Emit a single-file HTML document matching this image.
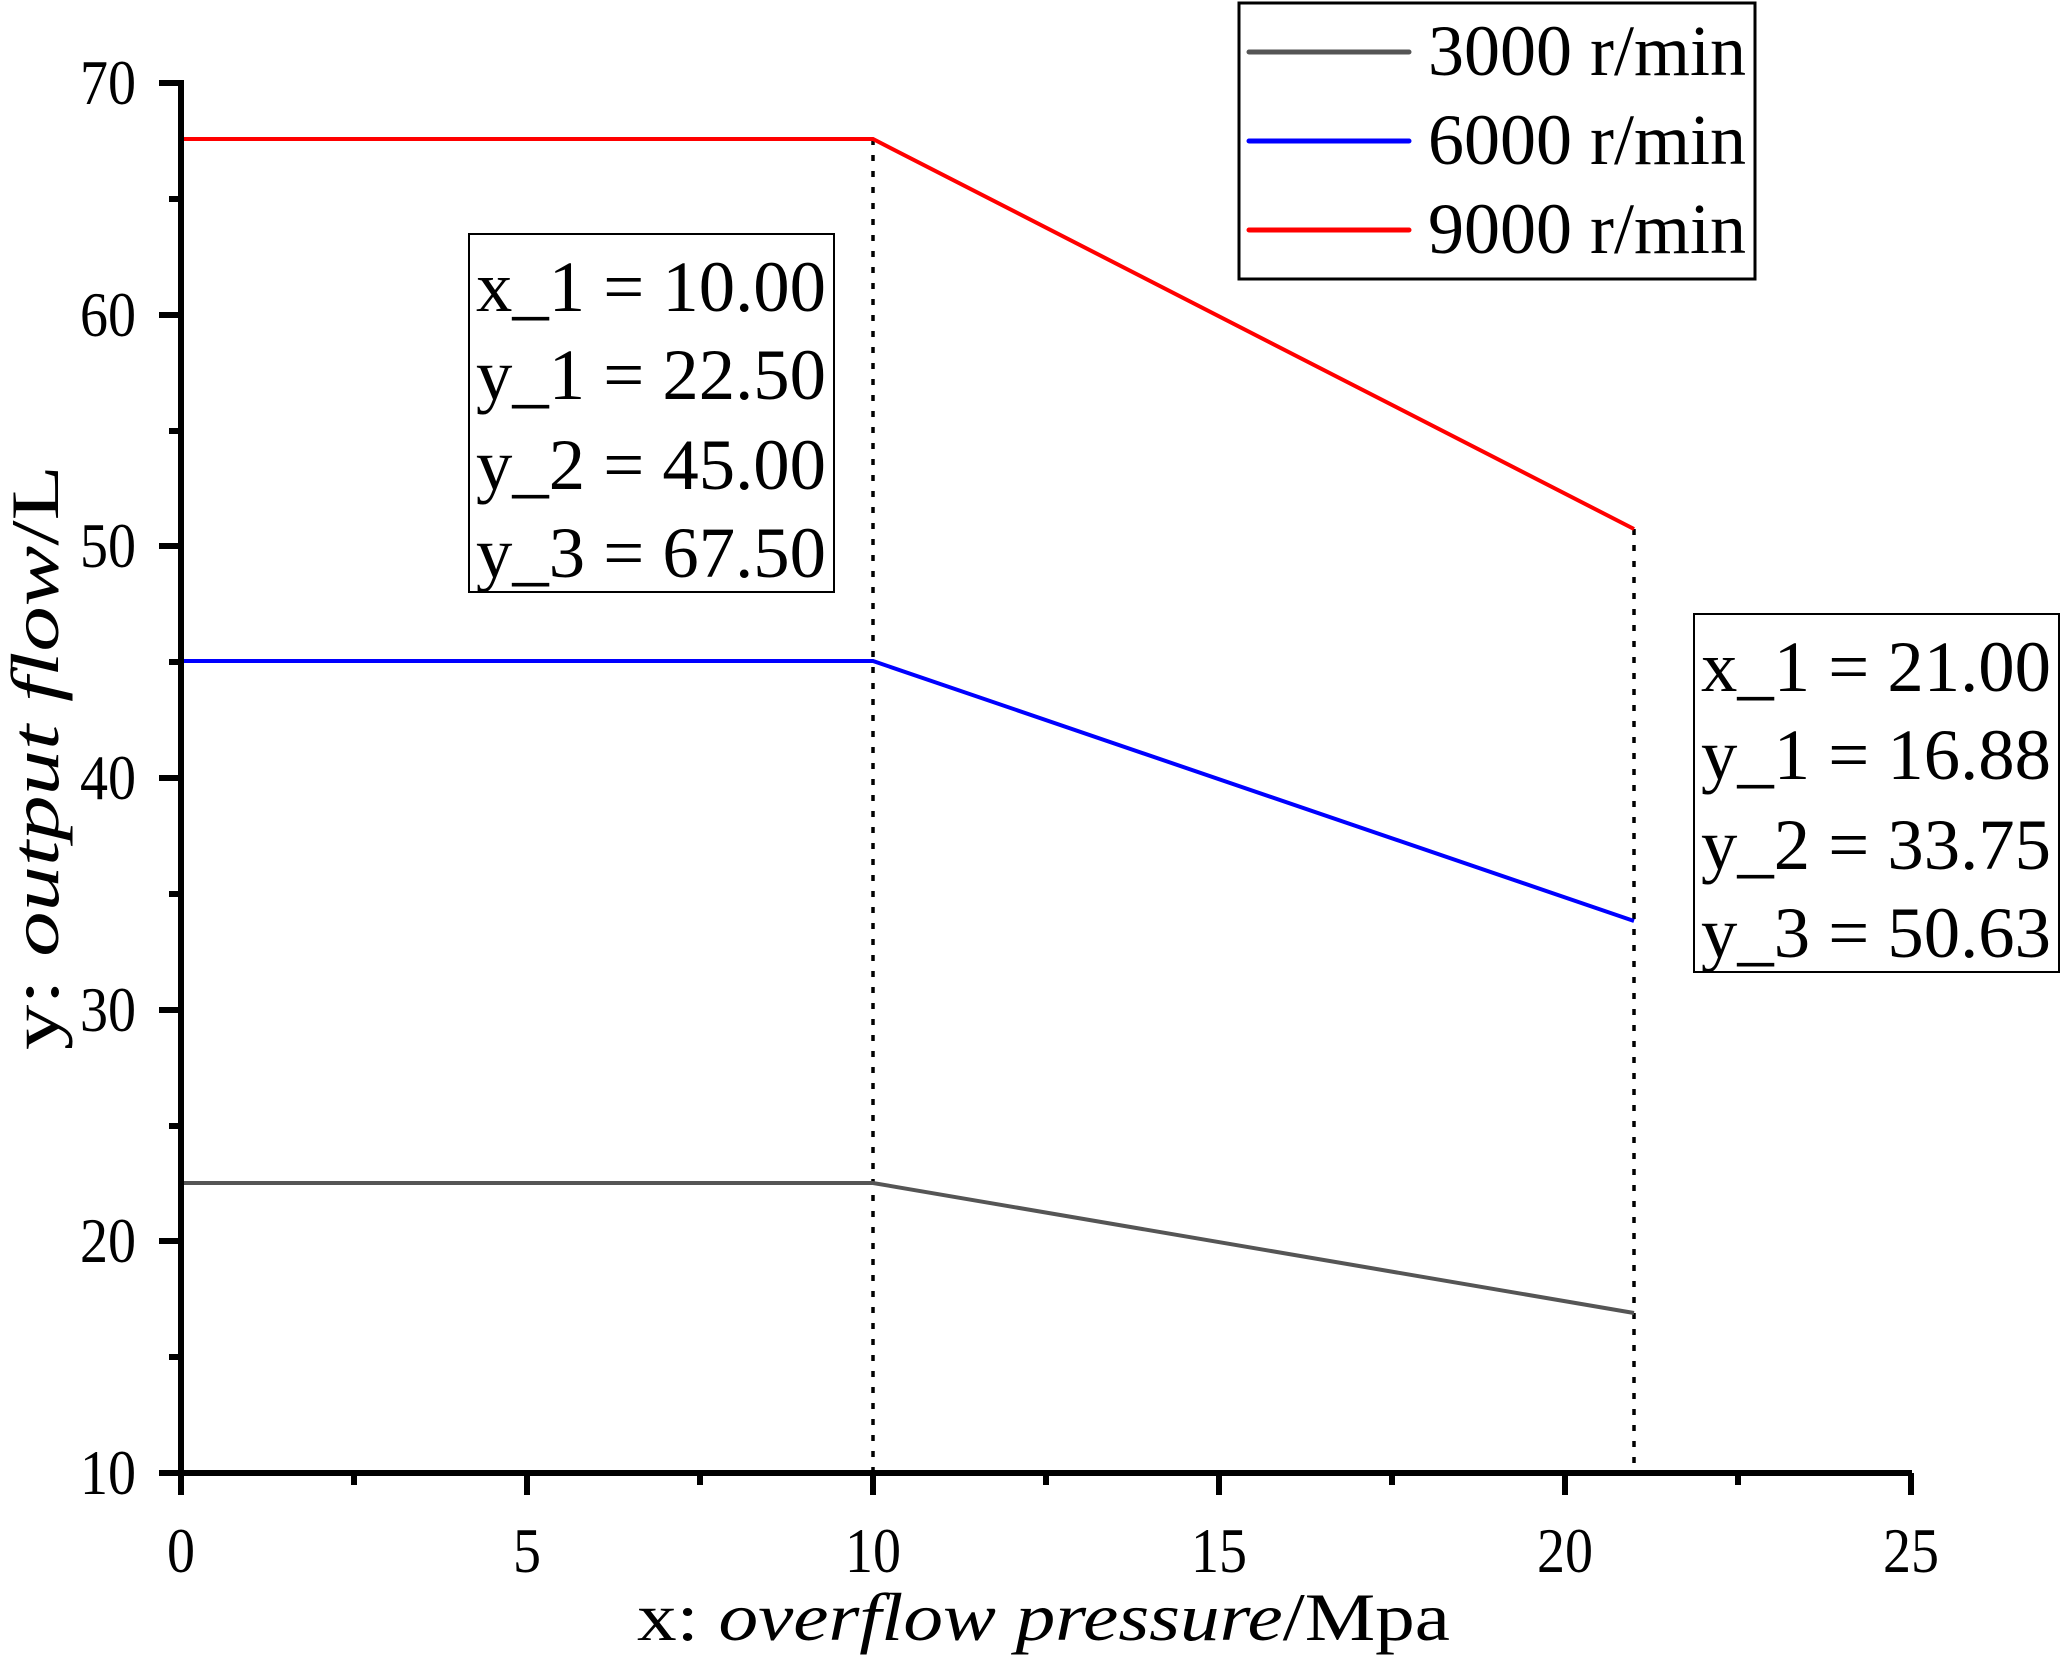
<!DOCTYPE html>
<html><head><meta charset="utf-8"><style>
html,body{margin:0;padding:0;background:#fff;}
svg{display:block;}
text{font-family:"Liberation Serif","Times New Roman",serif;fill:#000;}
</style></head><body>
<svg width="2067" height="1657" viewBox="0 0 2067 1657" xmlns="http://www.w3.org/2000/svg">
<rect width="2067" height="1657" fill="#fff"/>
<line x1="873" y1="139" x2="873" y2="1473" stroke="#000" stroke-width="3.5" stroke-dasharray="6,10"/>
<line x1="1634" y1="529" x2="1634" y2="1473" stroke="#000" stroke-width="3.5" stroke-dasharray="6,10"/>
<polyline points="181,1183 873,1183 1634,1313" fill="none" stroke="#555" stroke-width="4"/>
<polyline points="181,661 873,661 1634,921" fill="none" stroke="#0000ff" stroke-width="4"/>
<polyline points="181,139 873,139 1634,529" fill="none" stroke="#ff0000" stroke-width="4"/>
<line x1="181" y1="80" x2="181" y2="1476" stroke="#000" stroke-width="6"/>
<line x1="178" y1="1473" x2="1912" y2="1473" stroke="#000" stroke-width="6"/>
<g stroke="#000" stroke-width="6">
<line x1="159" y1="83" x2="181" y2="83"/><line x1="169" y1="199" x2="181" y2="199"/>
<line x1="159" y1="315" x2="181" y2="315"/><line x1="169" y1="431" x2="181" y2="431"/>
<line x1="159" y1="546" x2="181" y2="546"/><line x1="169" y1="662" x2="181" y2="662"/>
<line x1="159" y1="778" x2="181" y2="778"/><line x1="169" y1="894" x2="181" y2="894"/>
<line x1="159" y1="1010" x2="181" y2="1010"/><line x1="169" y1="1126" x2="181" y2="1126"/>
<line x1="159" y1="1241" x2="181" y2="1241"/><line x1="169" y1="1357" x2="181" y2="1357"/>
<line x1="159" y1="1473" x2="181" y2="1473"/>
<line x1="181" y1="1473" x2="181" y2="1495"/><line x1="354" y1="1473" x2="354" y2="1485"/>
<line x1="527" y1="1473" x2="527" y2="1495"/><line x1="700" y1="1473" x2="700" y2="1485"/>
<line x1="873" y1="1473" x2="873" y2="1495"/><line x1="1046" y1="1473" x2="1046" y2="1485"/>
<line x1="1219" y1="1473" x2="1219" y2="1495"/><line x1="1392" y1="1473" x2="1392" y2="1485"/>
<line x1="1565" y1="1473" x2="1565" y2="1495"/><line x1="1738" y1="1473" x2="1738" y2="1485"/>
<line x1="1911" y1="1473" x2="1911" y2="1495"/>
</g>
<g font-size="64" text-anchor="end">
<text x="136" y="104" textLength="56" lengthAdjust="spacingAndGlyphs">70</text>
<text x="136" y="336" textLength="56" lengthAdjust="spacingAndGlyphs">60</text>
<text x="136" y="567" textLength="56" lengthAdjust="spacingAndGlyphs">50</text>
<text x="136" y="799" textLength="56" lengthAdjust="spacingAndGlyphs">40</text>
<text x="136" y="1031" textLength="56" lengthAdjust="spacingAndGlyphs">30</text>
<text x="136" y="1262" textLength="56" lengthAdjust="spacingAndGlyphs">20</text>
<text x="136" y="1494" textLength="56" lengthAdjust="spacingAndGlyphs">10</text>
</g>
<g font-size="64" text-anchor="middle">
<text x="181" y="1572" textLength="28" lengthAdjust="spacingAndGlyphs">0</text>
<text x="527" y="1572" textLength="28" lengthAdjust="spacingAndGlyphs">5</text>
<text x="873" y="1572" textLength="56" lengthAdjust="spacingAndGlyphs">10</text>
<text x="1219" y="1572" textLength="56" lengthAdjust="spacingAndGlyphs">15</text>
<text x="1565" y="1572" textLength="56" lengthAdjust="spacingAndGlyphs">20</text>
<text x="1911" y="1572" textLength="56" lengthAdjust="spacingAndGlyphs">25</text>
</g>
<text x="637" y="1640" font-size="68" textLength="813" lengthAdjust="spacingAndGlyphs">x: <tspan font-style="italic">overflow pressure</tspan>/Mpa</text>
<text transform="translate(58,1050) rotate(-90)" font-size="68" textLength="585" lengthAdjust="spacingAndGlyphs">y: <tspan font-style="italic">output  flow</tspan>/L</text>
<rect x="469" y="234" width="365" height="358" fill="#fff" stroke="#000" stroke-width="2"/>
<g font-size="72">
<text x="476" y="311" textLength="350" lengthAdjust="spacingAndGlyphs">x_1 = 10.00</text>
<text x="476" y="399" textLength="350" lengthAdjust="spacingAndGlyphs">y_1 = 22.50</text>
<text x="476" y="489" textLength="350" lengthAdjust="spacingAndGlyphs">y_2 = 45.00</text>
<text x="476" y="577" textLength="350" lengthAdjust="spacingAndGlyphs">y_3 = 67.50</text>
</g>
<rect x="1694" y="614" width="365" height="358" fill="#fff" stroke="#000" stroke-width="2"/>
<g font-size="72">
<text x="1701" y="691" textLength="350" lengthAdjust="spacingAndGlyphs">x_1 = 21.00</text>
<text x="1701" y="779" textLength="350" lengthAdjust="spacingAndGlyphs">y_1 = 16.88</text>
<text x="1701" y="869" textLength="350" lengthAdjust="spacingAndGlyphs">y_2 = 33.75</text>
<text x="1701" y="957" textLength="350" lengthAdjust="spacingAndGlyphs">y_3 = 50.63</text>
</g>
<rect x="1239" y="3" width="516" height="276" fill="#fff" stroke="#000" stroke-width="3"/>
<g stroke-width="5" stroke-linecap="round">
<line x1="1249" y1="52" x2="1409" y2="52" stroke="#555"/>
<line x1="1249" y1="141" x2="1409" y2="141" stroke="#0000ff"/>
<line x1="1249" y1="230" x2="1409" y2="230" stroke="#ff0000"/>
</g>
<g font-size="72">
<text x="1428" y="75" textLength="318" lengthAdjust="spacingAndGlyphs">3000 r/min</text>
<text x="1428" y="164" textLength="318" lengthAdjust="spacingAndGlyphs">6000 r/min</text>
<text x="1428" y="253" textLength="318" lengthAdjust="spacingAndGlyphs">9000 r/min</text>
</g>
</svg>
</body></html>
